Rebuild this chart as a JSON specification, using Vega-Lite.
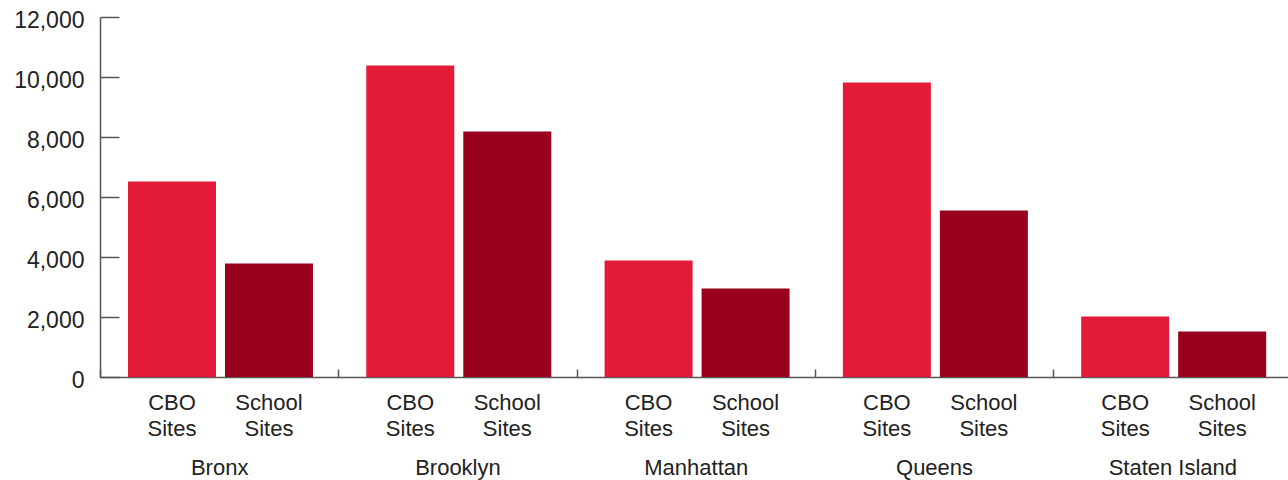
{
  "$schema": "https://vega.github.io/schema/vega-lite/v6.json",
  "autosize": "none",
  "width": 1191.5,
  "height": 360,
  "padding": {"left": 100, "top": 17, "right": -3.5, "bottom": 103},
  "background": "white",
  "config": {"view": {"stroke": null}, "font": "Liberation Sans"},
  "data": {
    "values": [
      {"borough": "Bronx", "type": "CBO Sites", "label": "CBO\nSites", "value": 6520},
      {"borough": "Bronx", "type": "School Sites", "label": "School\nSites", "value": 3780},
      {"borough": "Brooklyn", "type": "CBO Sites", "label": "CBO\nSites", "value": 10380},
      {"borough": "Brooklyn", "type": "School Sites", "label": "School\nSites", "value": 8180},
      {"borough": "Manhattan", "type": "CBO Sites", "label": "CBO\nSites", "value": 3880},
      {"borough": "Manhattan", "type": "School Sites", "label": "School\nSites", "value": 2950},
      {"borough": "Queens", "type": "CBO Sites", "label": "CBO\nSites", "value": 9820},
      {"borough": "Queens", "type": "School Sites", "label": "School\nSites", "value": 5550},
      {"borough": "Staten Island", "type": "CBO Sites", "label": "CBO\nSites", "value": 2020},
      {"borough": "Staten Island", "type": "School Sites", "label": "School\nSites", "value": 1520}
    ]
  },
  "encoding": {
    "x": {
      "field": "borough",
      "type": "nominal",
      "sort": ["Bronx", "Brooklyn", "Manhattan", "Queens", "Staten Island"],
      "scale": {"paddingInner": 0, "paddingOuter": 0},
      "axis": {
        "title": null,
        "labelAngle": 0,
        "labelFontSize": 22,
        "labelColor": "#222222",
        "labelBaseline": "top",
        "labelPadding": 88.6,
        "tickSize": -8,
        "tickBand": "extent",
        "tickColor": "#555555",
        "tickWidth": 1.5,
        "domainColor": "#555555",
        "domainWidth": 1.5
      }
    },
    "xOffset": {
      "field": "type",
      "type": "nominal",
      "sort": ["CBO Sites", "School Sites"],
      "scale": {"paddingInner": 0.0928, "paddingOuter": 0.2747, "align": 0.525}
    }
  },
  "layer": [
    {
      "mark": {"type": "bar"},
      "encoding": {
        "y": {
          "field": "value",
          "type": "quantitative",
          "scale": {"domain": [0, 12000], "nice": false},
          "axis": {
            "title": null,
            "values": [0, 2000, 4000, 6000, 8000, 10000, 12000],
            "format": ",.0f",
            "grid": false,
            "tickSize": -19,
            "labelPadding": 35,
            "labelOffset": 3.5,
            "labelFontSize": 23,
            "labelColor": "#222222",
            "tickColor": "#555555",
            "tickWidth": 1.5,
            "domainColor": "#555555",
            "domainWidth": 1.5
          }
        },
        "color": {
          "field": "type",
          "type": "nominal",
          "scale": {"domain": ["CBO Sites", "School Sites"], "range": ["#E41B38", "#98001E"]},
          "legend": null
        }
      }
    },
    {
      "mark": {
        "type": "text",
        "lineBreak": "\n",
        "baseline": "top",
        "dy": 15.6,
        "fontSize": 22,
        "lineHeight": 26.7,
        "color": "#222222"
      },
      "encoding": {
        "y": {"datum": 0, "type": "quantitative"},
        "text": {"field": "label"}
      }
    }
  ]
}
